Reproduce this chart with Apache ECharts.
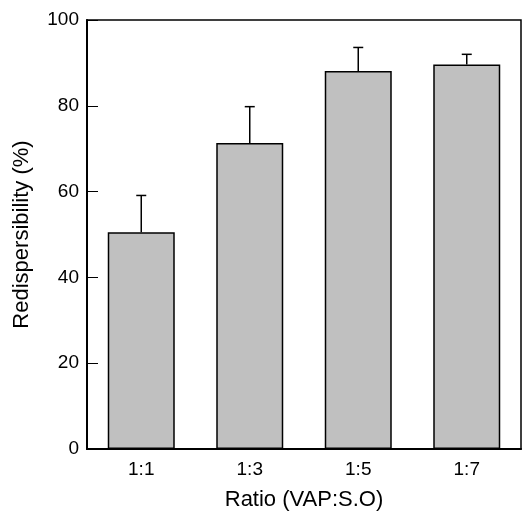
<!DOCTYPE html>
<html>
<head>
<meta charset="utf-8">
<script src="https://cdn.jsdelivr.net/npm/echarts@6/dist/echarts.min.js"></script>
<style>html,body{margin:0;padding:0;background:#fff;}#c{width:522px;height:514px;}</style>
</head>
<body>
<div id="c"></div>
<script>
var categories = ['1:1', '1:3', '1:5', '1:7'];
var values = [50.5, 71.3, 88.1, 89.6];
var errorTop = [59.1, 79.8, 93.6, 92.0];
var yTicks = [0, 20, 40, 60, 80, 100];

var chart = echarts.init(document.getElementById('c'));
var font = 'Liberation Sans, Arial, Helvetica, sans-serif';
chart.setOption({
  animation: false,
  backgroundColor: '#fff',
  grid: { left: 87, right: 1, top: 20, bottom: 65, containLabel: false, outerBoundsMode: 'none', show: true, borderColor: '#000', borderWidth: 1.5, backgroundColor: 'transparent' },
  xAxis: {
    type: 'category',
    data: categories,
    name: 'Ratio (VAP:S.O)',
    nameLocation: 'middle',
    nameGap: 40,
    nameTextStyle: { fontFamily: font, fontSize: 22, color: '#000' },
    axisLine: { lineStyle: { color: '#000', width: 2 } },
    axisTick: { show: false },
    axisLabel: { fontFamily: font, fontSize: 19, color: '#000', margin: 11 }
  },
  yAxis: {
    type: 'value',
    min: 0, max: 100, interval: 20,
    name: 'Redispersibility (%)',
    nameLocation: 'middle',
    nameGap: 54,
    nameTextStyle: { fontFamily: font, fontSize: 22, color: '#000' },
    axisLine: { show: true, lineStyle: { color: '#000', width: 2 } },
    axisTick: { show: true, inside: true, length: 11, lineStyle: { color: '#000', width: 1 } },
    axisLabel: { fontFamily: font, fontSize: 19, color: '#000', margin: 8,
      formatter: function (v) { return yTicks.indexOf(v) >= 0 ? String(v) : ''; } },
    splitLine: { show: false }
  },
  series: [
    {
      type: 'bar',
      data: values,
      barWidth: 67,
      itemStyle: { color: '#c0c0c0', borderColor: '#000', borderWidth: 1.5 },
      z: 2
    },
    {
      type: 'custom',
      data: categories.map(function (c, i) { return [i, values[i], errorTop[i]]; }),
      renderItem: function (params, api) {
        var base = api.coord([api.value(0), api.value(1)]);
        var top = api.coord([api.value(0), api.value(2)]);
        var hw = 5;
        return {
          type: 'group',
          children: [
            { type: 'line', shape: { x1: base[0], y1: base[1], x2: top[0], y2: top[1] }, style: { stroke: '#000', lineWidth: 1.5 } },
            { type: 'line', shape: { x1: top[0] - hw, y1: top[1], x2: top[0] + hw, y2: top[1] }, style: { stroke: '#000', lineWidth: 1.5 } }
          ]
        };
      },
      z: 3
    }
  ]
});
</script>
</body>
</html>
